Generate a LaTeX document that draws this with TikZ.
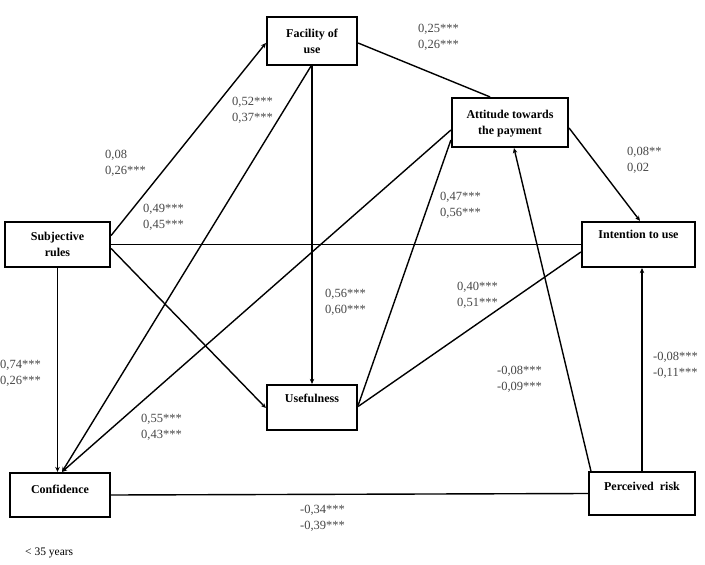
\documentclass[tikz,border=0pt]{standalone}
\usepackage{fontspec}
\setmainfont{Liberation Serif}
\usetikzlibrary{arrows.meta}
\definecolor{lbl}{RGB}{70,70,70}
\tikzset{
  box/.style={draw=black, line width=2.2pt, rectangle, inner sep=0pt, fill=white},
  boxtext/.style={font=\fontsize{12}{16}\selectfont\bfseries, align=center, inner sep=0pt},
  coef/.style={font=\fontsize{12.5}{16}\selectfont, text=lbl, align=left, anchor=north west, inner sep=0pt},
  link/.style={line width=1.4pt},
  conn/.style={link, -{Stealth[length=5pt,width=4.5pt]}},
}
\begin{document}
\begin{tikzpicture}[x=1pt,y=-1pt]
\useasboundingbox (0,0) rectangle (705,565);
% boxes
\node[box, minimum width=90pt, minimum height=48pt] (F) at (312,41) {};
\node[box, minimum width=105pt, minimum height=45pt] (SR) at (57.5,244.5) {};
\node[box, minimum width=116pt, minimum height=49pt] (A) at (510,122.5) {};
\node[box, minimum width=113pt, minimum height=45pt] (I) at (638.5,244.5) {};
\node[box, minimum width=90pt, minimum height=45pt] (U) at (312,407.5) {};
\node[box, minimum width=100pt, minimum height=44pt] (C) at (60,495) {};
\node[box, minimum width=106pt, minimum height=43pt] (P) at (642,493.5) {};
% connectors
\draw[conn] ([yshift=9]SR.east) -- ([yshift=-2]F.west);
\draw[conn] ([xshift=-1]F.south) -- ([xshift=2]C.north);
\draw[conn] (F.south) -- (U.north);
\draw[link] ([yshift=-2]F.east) -- ([xshift=-20]A.north);
\draw[link] (SR.east) -- (I.west);
\draw[conn] ([yshift=-4]SR.east) -- ([yshift=-0.5]U.west);
\draw[conn] (SR.south) -- (SR.south |- C.north);
\draw[conn] ([yshift=-7.5]A.west) -- ([xshift=2]C.north);
\draw[link] ([yshift=2]U.east) -- ([yshift=-17.5]A.west);
\draw[link] ([yshift=1]U.east) -- ([yshift=-7.5]I.west);
\draw[conn] ([yshift=-5.5]A.east) -- ([xshift=1.5]I.north);
\draw[conn] ([xshift=3]P.north west) -- ([xshift=4]A.south);
\draw[conn] (P.north) -- (P.north |- I.south);
\draw[link] (C.east) -- (P.west);
% redraw boxes on top
\node[box, minimum width=90pt, minimum height=48pt] (F2) at (312,41) {};
\node[box, minimum width=105pt, minimum height=45pt] (SR2) at (57.5,244.5) {};
\node[box, minimum width=116pt, minimum height=49pt] (A2) at (510,122.5) {};
\node[box, minimum width=113pt, minimum height=45pt] (I2) at (638.5,244.5) {};
\node[box, minimum width=90pt, minimum height=45pt] (U2) at (312,407.5) {};
\node[box, minimum width=100pt, minimum height=44pt] (C2) at (60,495) {};
\node[box, minimum width=106pt, minimum height=43pt] (P2) at (642,493.5) {};
% box texts
\node[boxtext] (tF) at (F.center) {Facility of\\use};
\node[boxtext] (tSR) at (SR.center) {Subjective\\rules};
\node[boxtext] (tA) at ([yshift=-1]A.center) {Attitude towards\\the payment};
\node[boxtext] (tI) at ([yshift=-14]I.north) {Intention to use};
\node[boxtext] (tU) at ([yshift=-14]U.north) {Usefulness};
\node[boxtext] (tC) at ([yshift=-17]C.north) {Confidence};
\node[boxtext] (tP) at ([yshift=-15]P.north) {Perceived\ \ risk};
% coefficients
\node[coef] (l1) at (105,150) {0,08\\0,26***};
\node[coef] (l2) at (232,97) {0,52***\\0,37***};
\node[coef] (l3) at (143,204) {0,49***\\0,45***};
\node[coef] (l4) at (418,24) {0,25***\\0,26***};
\node[coef] (l5) at (627,147) {0,08**\\0,02};
\node[coef] (l6) at (440,192) {0,47***\\0,56***};
\node[coef] (l7) at (325,289) {0,56***\\0,60***};
\node[coef] (l8) at (457,282) {0,40***\\0,51***};
\node[coef] (l9) at (497,366) {-0,08***\\-0,09***};
\node[coef] (l10) at (653,352) {-0,08***\\-0,11***};
\node[coef] (l11) at (0,360) {0,74***\\0,26***};
\node[coef] (l12) at (141,414) {0,55***\\0,43***};
\node[coef] (l13) at (300,505) {-0,34***\\-0,39***};
\node[coef, text=black, font=\fontsize{11.5}{12}\selectfont] (l14) at (25,548) {< 35 years};
\end{tikzpicture}
\end{document}
